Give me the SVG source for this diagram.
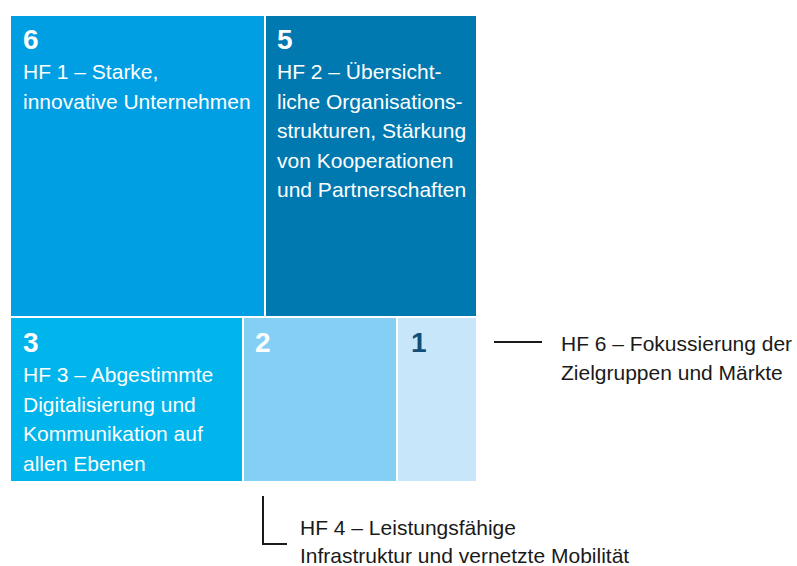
<svg xmlns="http://www.w3.org/2000/svg" width="797" height="566" viewBox="0 0 797 566">
  <style>
    .num { font-family: "Liberation Sans", Arial, sans-serif; font-weight: bold; font-size: 28px; fill: #ffffff; }
    .txt { font-family: "Liberation Sans", Arial, sans-serif; font-size: 21px; fill: #ffffff; }
    .lbl { font-family: "Liberation Sans", Arial, sans-serif; font-size: 21px; fill: #1a1a1a; }
    .conn { fill: none; stroke: #1a1a1a; stroke-width: 2; }
  </style>
  <rect width="797" height="566" fill="#ffffff"/>
  <g id="node-hf1">
    <rect x="11" y="16" width="253" height="300" fill="#009FE3"/>
    <text class="num" x="23" y="49">6</text>
    <text class="txt" x="23" y="79">HF 1 – Starke,</text>
    <text class="txt" x="23" y="108.5">innovative Unternehmen</text>
  </g>
  <g id="node-hf2">
    <rect x="266" y="16" width="210" height="300" fill="#0079B0"/>
    <text class="num" x="277" y="49">5</text>
    <text class="txt" x="277" y="79">HF 2 – Übersicht-</text>
    <text class="txt" x="277" y="108.5">liche Organisations-</text>
    <text class="txt" x="277" y="138">strukturen, Stärkung</text>
    <text class="txt" x="277" y="167.5">von Kooperationen</text>
    <text class="txt" x="277" y="197">und Partnerschaften</text>
  </g>
  <g id="node-hf3">
    <rect x="11" y="318" width="231" height="163" fill="#00B4EC"/>
    <text class="num" x="23" y="352">3</text>
    <text class="txt" x="23" y="382">HF 3 – Abgestimmte</text>
    <text class="txt" x="23" y="411.5">Digitalisierung und</text>
    <text class="txt" x="23" y="441">Kommunikation auf</text>
    <text class="txt" x="23" y="470.5">allen Ebenen</text>
  </g>
  <g id="node-hf4">
    <rect x="244" y="318" width="152" height="163" fill="#84CFF4"/>
    <text class="num" x="255" y="352">2</text>
  </g>
  <g id="node-hf6">
    <rect x="398" y="318" width="78" height="163" fill="#C8E6FA"/>
    <text class="num" x="411" y="352" style="fill:#114E78">1</text>
  </g>
  <g id="connectors">
    <path class="conn" d="M494,342 H542"/>
    <path class="conn" d="M263,496 V544 H287"/>
  </g>
  <g id="label-hf6">
    <text class="lbl" x="561" y="351">HF 6 – Fokussierung der</text>
    <text class="lbl" x="561" y="380">Zielgruppen und Märkte</text>
  </g>
  <g id="label-hf4">
    <text class="lbl" x="300" y="535">HF 4 – Leistungsfähige</text>
    <text class="lbl" x="300" y="563">Infrastruktur und vernetzte Mobilität</text>
  </g>
</svg>
